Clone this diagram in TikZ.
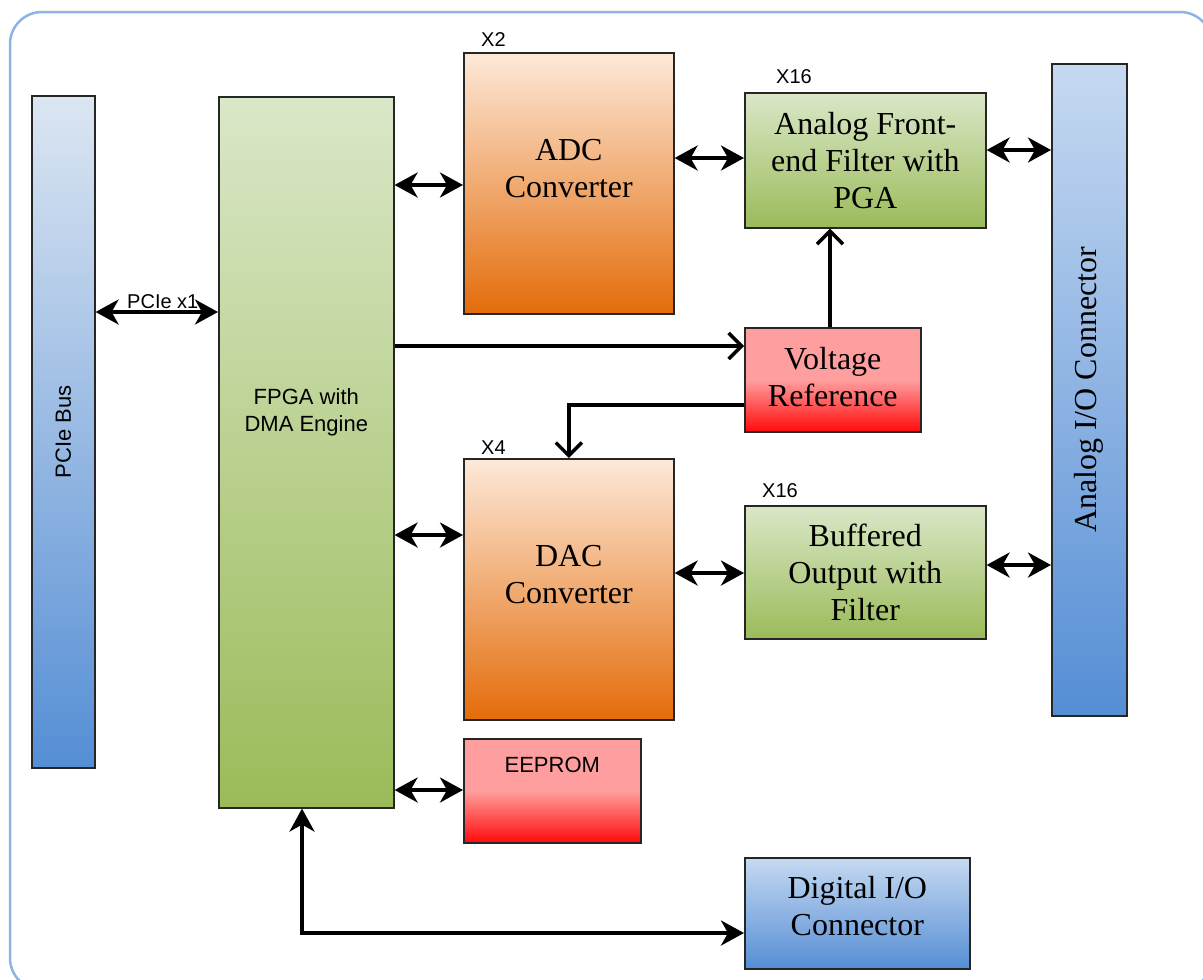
\documentclass[tikz,border=0pt]{standalone}
\usepackage{fontspec}
\setmainfont{Liberation Serif}
\setsansfont{Liberation Sans}
\usetikzlibrary{positioning,arrows.meta}

\definecolor{frameblue}{HTML}{8EB4E3}
\definecolor{bluetop}{HTML}{DCE6F2}
\definecolor{bluelite}{HTML}{C6D9F1}
\definecolor{bluebot}{HTML}{558ED5}
\definecolor{greentop}{HTML}{DAE7C8}
\definecolor{greenbot}{HTML}{9BBB59}
\definecolor{orangetop}{HTML}{FDE9D9}
\definecolor{orangebot}{HTML}{E46C0A}
\definecolor{redtop}{HTML}{FF9E9E}
\definecolor{redbot}{HTML}{FF0A0A}

\tikzset{
  box/.style={draw=black!85,line width=1.6pt,inner sep=0pt,anchor=north west},
  bus/.style={box,top color=bluetop,bottom color=bluebot},
  conn/.style={box,top color=bluelite,bottom color=bluebot},
  logic/.style={box,top color=greentop,bottom color=greenbot},
  conv/.style={box,top color=orangetop,bottom color=orangebot},
  ref/.style={box,top color=redtop,bottom color=redbot,middle color=redtop},
  serif/.style={align=center,inner sep=0pt,font=\fontsize{32}{37}\selectfont},
  sans/.style={align=center,inner sep=0pt,font=\sffamily\fontsize{22}{27}\selectfont},
  tag/.style={inner sep=0pt,font=\sffamily\fontsize{20}{24}\selectfont},
  dbl/.style={line width=3.5pt,
    {Stealth[length=23pt,width=25pt,inset=7pt]}-{Stealth[length=23pt,width=25pt,inset=7pt]}},
  chev/.style={line width=3.5pt,-{Straight Barb[length=13pt,width=26pt]}},
}

\begin{document}
\begin{tikzpicture}[x=1pt,y=-1pt]
  \path[use as bounding box,clip] (0,0) rectangle (1203,980);
  \draw[frameblue,line width=2.5pt,rounded corners=32pt] (10,12) rectangle (1212,990);

  % blocks
  \node[bus,minimum width=63,minimum height=672] (pcie) at (31,95) {};
  \node[sans,rotate=90] (pcietext) at (pcie.center) {PCIe Bus};
  \node[logic,minimum width=175,minimum height=711] (fpga) at (218,96) {};
  \node[sans] (fpgatext) at ([yshift=40pt]fpga.center) {FPGA with\\DMA Engine};

  \node[conv,minimum width=210,minimum height=261] (adc) at (463,52) {};
  \node[serif] (adctext) at ([yshift=15pt]adc.center) {ADC\\Converter};
  \node[tag,anchor=south west] (adcnum) at (481,47) {X2};

  \node[logic,minimum width=241,minimum height=135] (afe) at (744,92) {};
  \node[serif] (afetext) at (afe.center) {Analog Front-\\end Filter with\\PGA};
  \node[tag,anchor=south west] (afenum) at (776,84) {X16};

  \node[conn,minimum width=75,minimum height=652] (aio) at (1051,63) {};
  \node[serif,rotate=90] (aiotext) at (aio.center) {Analog I/O Connector};

  \node[ref,minimum width=176,minimum height=104] (vref) at (744,327) {};
  \node[serif] (vreftext) at ([yshift=3pt]vref.center) {Voltage\\Reference};

  \node[conv,minimum width=210,minimum height=261] (dac) at (463,458) {};
  \node[serif] (dactext) at ([yshift=15pt]dac.center) {DAC\\Converter};
  \node[tag,anchor=south west] (dacnum) at (481,455) {X4};

  \node[logic,minimum width=241,minimum height=133] (buf) at (744,505) {};
  \node[serif] (buftext) at (buf.center) {Buffered\\Output with\\Filter};
  \node[tag,anchor=south west] (bufnum) at (762,498) {X16};

  \node[ref,minimum width=177,minimum height=104] (eeprom) at (463,738) {};
  \node[sans] (eepromtext) at ([yshift=-27pt]eeprom.north) {EEPROM};

  \node[conn,minimum width=225,minimum height=111] (dio) at (744,857) {};
  \node[serif] (diotext) at ([yshift=7pt]dio.center) {Digital I/O\\Connector};

  % links
  \draw[dbl] (pcie.east |- 0,312) -- (fpga.west |- 0,312)
    node[tag,midway,above=2pt,xshift=6pt] (pcielink) {PCIe x1};
  \draw[dbl] (fpga.east |- 0,185) -- (adc.west |- 0,185);
  \draw[dbl] (adc.east |- 0,158) -- (afe.west |- 0,158);
  \draw[dbl] (afe.east |- 0,150) -- (aio.west |- 0,150);
  \draw[chev] (fpga.east |- 0,346) -- (vref.west |- 0,346);
  \draw[chev] (vref.north -| 830,0) -- (afe.south -| 830,0);
  \draw[chev] (vref.west |- 0,405) -| (dac.north);
  \draw[dbl] (fpga.east |- 0,535) -- (dac.west |- 0,535);
  \draw[dbl] (dac.east |- 0,573) -- (buf.west |- 0,573);
  \draw[dbl] (buf.east |- 0,565) -- (aio.west |- 0,565);
  \draw[dbl] (fpga.east |- 0,790) -- (eeprom.west |- 0,790);
  \draw[dbl] (fpga.south -| 302,0) |- (dio.west |- 0,933);
\end{tikzpicture}
\end{document}
